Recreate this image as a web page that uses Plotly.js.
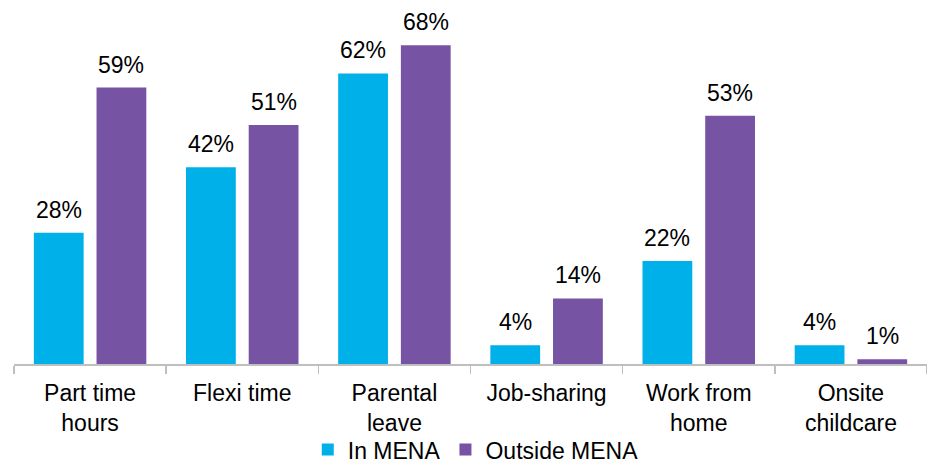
<!DOCTYPE html>
<html>
<head>
<meta charset="utf-8">
<script src="https://cdn.plot.ly/plotly-3.0.1.min.js"></script>
<style>html,body{margin:0;padding:0;background:#fff}#chart{width:927px;height:465px}</style>
</head>
<body>
<div id="chart"></div>
<script>
const categories = ["Part time<br>hours", "Flexi time", "Parental<br>leave", "Job-sharing", "Work from<br>home", "Onsite<br>childcare"];
const inMena = [28, 42, 62, 4, 22, 4];
const outsideMena = [59, 51, 68, 14, 53, 1];
const seriesNames = ["In MENA", "Outside MENA"];

const FONT = "Arial, 'Liberation Sans', sans-serif";
const labelFont = {family: FONT, size: 23, color: "#000"};

const traces = [
  {type: "bar", name: seriesNames[0], x: categories, y: inMena,
   marker: {color: "#00B0E8"}, hoverinfo: "none"},
  {type: "bar", name: seriesNames[1], x: categories, y: outsideMena,
   marker: {color: "#7753A3"}, hoverinfo: "none"}
];

// value labels placed through the axes' own scales
const W = 927, ML = 14, MR = 0;
const bargap = 0.176;
const catPx = (W - ML - MR) / categories.length;
const slot = catPx * (1 - bargap) / 2;
const annotations = [];
[inMena, outsideMena].forEach((vals, s) => {
  vals.forEach((v, i) => {
    annotations.push({x: categories[i], y: v, xref: "x", yref: "y",
      text: v + "%", showarrow: false, xanchor: "center", yanchor: "middle",
      xshift: (s === 0 ? -1 : 1) * slot / 2, yshift: 23, font: labelFont});
  });
});

const layout = {
  width: W, height: 465,
  margin: {l: ML, r: MR, t: 36, b: 101},
  paper_bgcolor: "#fff", plot_bgcolor: "#fff",
  barmode: "group", bargap: bargap, bargroupgap: 0.206,
  font: {family: FONT, size: 23, color: "#000"},
  showlegend: true,
  annotations: annotations,
  legend: {orientation: "h", xref: "container", yref: "container",
           x: 0.332, xanchor: "left", y: 0.033, yanchor: "middle",
           bgcolor: "rgba(0,0,0,0)",
           font: {family: FONT, size: 23, color: "#000"}, itemclick: false},
  xaxis: {type: "category", showline: true, linecolor: "#BFBFBF", linewidth: 1.5,
          ticks: "outside", tickson: "boundaries", ticklen: 8, tickcolor: "#BFBFBF", tickwidth: 1.5,
          ticklabelstandoff: 8, automargin: false,
          tickfont: {family: FONT, size: 23, color: "#000"}, showgrid: false, zeroline: false},
  yaxis: {range: [0, 70], visible: false, showgrid: false, zeroline: false}
};

Plotly.newPlot("chart", traces, layout, {displayModeBar: false, staticPlot: true});
</script>
</body>
</html>
